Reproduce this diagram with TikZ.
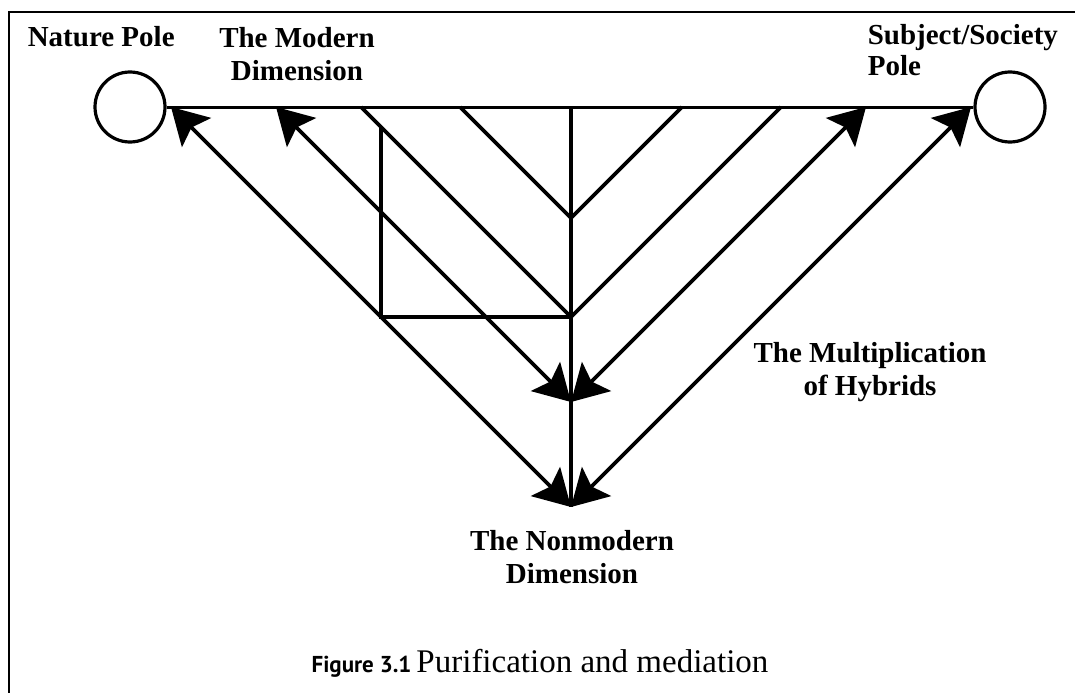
\documentclass[tikz,border=0pt]{standalone}
\usepackage{fontspec}
\setmainfont{Liberation Serif}
\newfontfamily\capfont{PT Sans}
\usetikzlibrary{arrows.meta}
\begin{document}
\begin{tikzpicture}[x=1pt,y=-1pt,line width=3.6pt,
  pole/.style={draw,circle,minimum size=70pt,inner sep=0pt,line width=3.2pt},
  poletext/.style={font=\fontsize{29}{33}\selectfont\bfseries,inner sep=0pt},
  both/.style={{Stealth[length=36pt,width=41pt,inset=7pt]}-{Stealth[length=36pt,width=41pt,inset=7pt]}}]
\useasboundingbox (0,0) rectangle (1075,693);

% Frame
\draw[line width=2pt] (1075,12) -- (9,12) -- (9,693);

% Poles
\node[pole] (nature) at (130,107) {};
\node[pole] (society) at (1010,107) {};
\draw[line width=3pt] (nature.east) -- (society.west);

% Points on the middle axis
\coordinate (top) at (571,107);
\coordinate (vup) at (571,218);
\coordinate (vmid) at (571,317);
\coordinate (tipmid) at (571,402);
\coordinate (tiplow) at (571,507);

% Feet on the modern line
\coordinate (upL) at (460,107);
\coordinate (upR) at (682,107);
\coordinate (midL) at (361,107);
\coordinate (midR) at (781,107);
\coordinate (arrL) at (276,107);
\coordinate (arrR) at (866,107);
\coordinate (lowL) at (171,107);
\coordinate (lowR) at (971,107);
\coordinate (boxT) at (381,127);
\coordinate (boxB) at (381,317);

% Purification
\draw (top) -- (tiplow);
\draw (upL) -- (vup) -- (upR);
\draw (midL) -- (vmid) -- (midR);
\draw (boxT) -- (boxB) -- (vmid);

% Mediation
\draw[both] (arrL) -- (tipmid);
\draw[both] (arrR) -- (tipmid);
\draw[both] (lowL) -- (tiplow);
\draw[both] (lowR) -- (tiplow);

% Labels
\node[poletext,anchor=base west] (naturelbl) at (26,47) {Nature Pole};
\node[poletext,align=center,anchor=north] (modernlbl) at (297,26) {The Modern\\Dimension};
\node[poletext,align=left,anchor=north west,font=\fontsize{29}{31}\selectfont\bfseries] (societylbl) at (866,23) {Subject/Society\\Pole};
\node[poletext,align=center,anchor=north] (hybridlbl) at (870,341) {The Multiplication\\of Hybrids};
\node[poletext,align=center,anchor=north] (nonmodernlbl) at (572,529) {The Nonmodern\\Dimension};

% Caption
\node[anchor=base] (caption) at (540,672) {{\capfont\bfseries\fontsize{23}{23}\selectfont Figure 3.1}\enspace\fontsize{33}{33}\selectfont Purification and mediation};
\end{tikzpicture}
\end{document}
